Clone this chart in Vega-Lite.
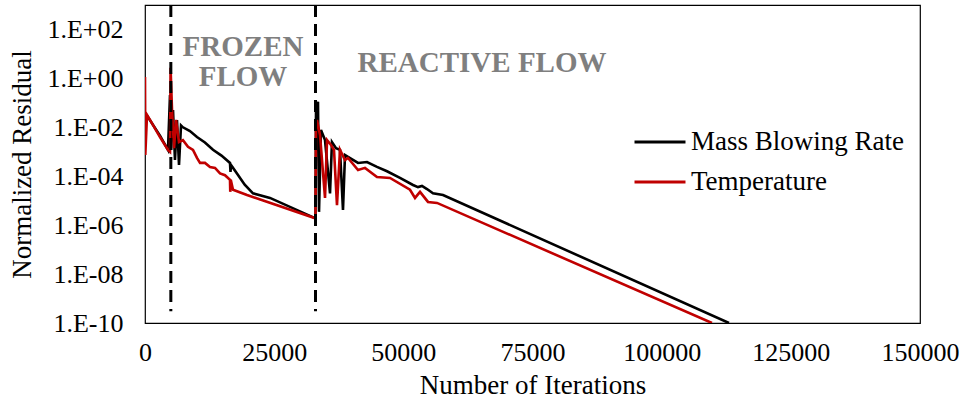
{
  "$schema": "https://vega.github.io/schema/vega-lite/v6.json",
  "width": 775,
  "height": 318,
  "autosize": {"type": "none"},
  "padding": {"left": 145, "top": 5, "right": 43, "bottom": 80},
  "background": "white",
  "config": {
    "view": {"stroke": "#000000", "strokeWidth": 1.2},
    "font": "Liberation Serif",
    "axis": {"grid": false, "ticks": false, "domain": false, "labelFontSize": 26, "labelColor": "#000", "titleFontSize": 27, "titleFontWeight": "normal", "titleColor": "#000", "labelFont": "Liberation Serif", "titleFont": "Liberation Serif"},
    "legend": {"labelFont": "Liberation Serif", "labelFontSize": 27, "labelColor": "#000", "labelLimit": 0}
  },
  "datasets": {
    "series": [
      {"it": 0, "val": 2.6e-2, "series": "Mass Blowing Rate"},
      {"it": 390, "val": 3.0e-2, "series": "Mass Blowing Rate"},
      {"it": 2900, "val": 4.5e-3, "series": "Mass Blowing Rate"},
      {"it": 4450, "val": 1.2e-3, "series": "Mass Blowing Rate"},
      {"it": 4840, "val": 0.21, "series": "Mass Blowing Rate"},
      {"it": 5030, "val": 1.2e-3, "series": "Mass Blowing Rate"},
      {"it": 5420, "val": 5.1e-2, "series": "Mass Blowing Rate"},
      {"it": 5800, "val": 4.6e-4, "series": "Mass Blowing Rate"},
      {"it": 6190, "val": 2.0e-2, "series": "Mass Blowing Rate"},
      {"it": 6580, "val": 2.9e-4, "series": "Mass Blowing Rate"},
      {"it": 6970, "val": 1.2e-2, "series": "Mass Blowing Rate"},
      {"it": 7350, "val": 1.0e-2, "series": "Mass Blowing Rate"},
      {"it": 8700, "val": 7.0e-3, "series": "Mass Blowing Rate"},
      {"it": 10060, "val": 4.0e-3, "series": "Mass Blowing Rate"},
      {"it": 11600, "val": 2.4e-3, "series": "Mass Blowing Rate"},
      {"it": 13160, "val": 1.2e-3, "series": "Mass Blowing Rate"},
      {"it": 14800, "val": 7.0e-4, "series": "Mass Blowing Rate"},
      {"it": 16450, "val": 3.5e-4, "series": "Mass Blowing Rate"},
      {"it": 16550, "val": 1.5e-4, "series": "Mass Blowing Rate"},
      {"it": 16650, "val": 2.9e-4, "series": "Mass Blowing Rate"},
      {"it": 17800, "val": 1.3e-4, "series": "Mass Blowing Rate"},
      {"it": 19300, "val": 4.5e-5, "series": "Mass Blowing Rate"},
      {"it": 20900, "val": 2.0e-5, "series": "Mass Blowing Rate"},
      {"it": 24190, "val": 1.3e-5, "series": "Mass Blowing Rate"},
      {"it": 33000, "val": 1.9e-6, "series": "Mass Blowing Rate"},
      {"it": 33100, "val": 5.1e-2, "series": "Mass Blowing Rate"},
      {"it": 33480, "val": 0.11, "series": "Mass Blowing Rate"},
      {"it": 33680, "val": 3.5e-6, "series": "Mass Blowing Rate"},
      {"it": 34060, "val": 7.8e-3, "series": "Mass Blowing Rate"},
      {"it": 34840, "val": 3.0e-3, "series": "Mass Blowing Rate"},
      {"it": 35810, "val": 2.0e-5, "series": "Mass Blowing Rate"},
      {"it": 36190, "val": 2.5e-3, "series": "Mass Blowing Rate"},
      {"it": 36970, "val": 1.4e-3, "series": "Mass Blowing Rate"},
      {"it": 37740, "val": 1.2e-3, "series": "Mass Blowing Rate"},
      {"it": 38320, "val": 4.2e-6, "series": "Mass Blowing Rate"},
      {"it": 38710, "val": 7.4e-4, "series": "Mass Blowing Rate"},
      {"it": 39290, "val": 6.2e-4, "series": "Mass Blowing Rate"},
      {"it": 41230, "val": 3.5e-4, "series": "Mass Blowing Rate"},
      {"it": 42970, "val": 3.8e-4, "series": "Mass Blowing Rate"},
      {"it": 44900, "val": 2.4e-4, "series": "Mass Blowing Rate"},
      {"it": 46840, "val": 1.6e-4, "series": "Mass Blowing Rate"},
      {"it": 49350, "val": 8.5e-5, "series": "Mass Blowing Rate"},
      {"it": 51870, "val": 4.4e-5, "series": "Mass Blowing Rate"},
      {"it": 52840, "val": 3.6e-5, "series": "Mass Blowing Rate"},
      {"it": 53610, "val": 4.0e-5, "series": "Mass Blowing Rate"},
      {"it": 54580, "val": 3.0e-5, "series": "Mass Blowing Rate"},
      {"it": 55740, "val": 2.0e-5, "series": "Mass Blowing Rate"},
      {"it": 57680, "val": 1.7e-5, "series": "Mass Blowing Rate"},
      {"it": 113030, "val": 1e-10, "series": "Mass Blowing Rate"},
      {"it": 0, "val": 1.15, "series": "Temperature"},
      {"it": 60, "val": 7.4e-4, "series": "Temperature"},
      {"it": 390, "val": 3.2e-2, "series": "Temperature"},
      {"it": 970, "val": 2.0e-2, "series": "Temperature"},
      {"it": 2900, "val": 4.0e-3, "series": "Temperature"},
      {"it": 4450, "val": 1.2e-3, "series": "Temperature"},
      {"it": 4840, "val": 1.0e-3, "series": "Temperature"},
      {"it": 4950, "val": 2.7, "series": "Temperature"},
      {"it": 5230, "val": 5.1e-2, "series": "Temperature"},
      {"it": 5620, "val": 1.4e-3, "series": "Temperature"},
      {"it": 6000, "val": 2.0e-2, "series": "Temperature"},
      {"it": 6580, "val": 2.5e-3, "series": "Temperature"},
      {"it": 7350, "val": 3.0e-3, "series": "Temperature"},
      {"it": 8320, "val": 1.6e-3, "series": "Temperature"},
      {"it": 9290, "val": 1.2e-3, "series": "Temperature"},
      {"it": 10060, "val": 5.6e-4, "series": "Temperature"},
      {"it": 10650, "val": 3.5e-4, "series": "Temperature"},
      {"it": 11610, "val": 3.5e-4, "series": "Temperature"},
      {"it": 12580, "val": 2.4e-4, "series": "Temperature"},
      {"it": 13550, "val": 2.2e-4, "series": "Temperature"},
      {"it": 14520, "val": 1.3e-4, "series": "Temperature"},
      {"it": 15480, "val": 1.1e-4, "series": "Temperature"},
      {"it": 16450, "val": 7.1e-5, "series": "Temperature"},
      {"it": 16500, "val": 2.3e-5, "series": "Temperature"},
      {"it": 16600, "val": 7.1e-5, "series": "Temperature"},
      {"it": 17030, "val": 2.8e-5, "series": "Temperature"},
      {"it": 19740, "val": 1.7e-5, "series": "Temperature"},
      {"it": 33000, "val": 1.9e-6, "series": "Temperature"},
      {"it": 33100, "val": 1.2e-2, "series": "Temperature"},
      {"it": 33290, "val": 2.0e-2, "series": "Temperature"},
      {"it": 33870, "val": 4.9e-3, "series": "Temperature"},
      {"it": 34840, "val": 1.3e-5, "series": "Temperature"},
      {"it": 35230, "val": 3.0e-3, "series": "Temperature"},
      {"it": 36000, "val": 1.9e-3, "series": "Temperature"},
      {"it": 36580, "val": 1.2e-3, "series": "Temperature"},
      {"it": 37160, "val": 6.6e-6, "series": "Temperature"},
      {"it": 37740, "val": 1.2e-3, "series": "Temperature"},
      {"it": 38710, "val": 4.6e-4, "series": "Temperature"},
      {"it": 39290, "val": 5.6e-4, "series": "Temperature"},
      {"it": 41230, "val": 1.8e-4, "series": "Temperature"},
      {"it": 42580, "val": 2.2e-4, "series": "Temperature"},
      {"it": 44900, "val": 9.3e-5, "series": "Temperature"},
      {"it": 47420, "val": 8.5e-5, "series": "Temperature"},
      {"it": 51290, "val": 2.8e-5, "series": "Temperature"},
      {"it": 52260, "val": 1.3e-5, "series": "Temperature"},
      {"it": 53230, "val": 2.3e-5, "series": "Temperature"},
      {"it": 54770, "val": 8.9e-6, "series": "Temperature"},
      {"it": 56520, "val": 8.1e-6, "series": "Temperature"},
      {"it": 109740, "val": 1e-10, "series": "Temperature"}
    ],
    "phases": [
      {"it": 5000},
      {"it": 33000}
    ],
    "labels": [
      {"text": "FROZEN", "it": 18970, "val": 19},
      {"text": "FLOW", "it": 18970, "val": 1.15},
      {"text": "REACTIVE FLOW", "it": 65230, "val": 4.3}
    ]
  },
  "layer": [
    {
      "data": {"name": "series"},
      "mark": {"type": "line", "strokeWidth": 2.6, "clip": true, "interpolate": "linear"},
      "encoding": {
        "x": {"field": "it", "type": "quantitative", "scale": {"domain": [0, 150000], "nice": false, "zero": false},
          "axis": {"values": [0, 25000, 50000, 75000, 100000, 125000, 150000], "format": "d", "title": "Number of Iterations", "labelPadding": 16, "titlePadding": 7, "labelFlush": false}},
        "y": {"field": "val", "type": "quantitative", "scale": {"type": "log", "domain": [1e-10, 1000], "nice": false},
          "axis": {"values": [1e-10, 1e-8, 1e-6, 1e-4, 1e-2, 1, 100], "title": "Normalized Residual", "labelPadding": 22, "titlePadding": 10,
            "labelExpr": "'1.E' + (datum.value >= 1 ? '+' : '-') + (abs(round(log(datum.value)/LN10)) < 10 ? '0' : '') + abs(round(log(datum.value)/LN10))"}},
        "color": {"field": "series", "type": "nominal",
          "scale": {"domain": ["Mass Blowing Rate", "Temperature"], "range": ["#000000", "#c00000"]},
          "legend": {"title": null, "orient": "none", "legendX": 488, "legendY": 110, "symbolType": "stroke", "symbolSize": 2600, "symbolStrokeWidth": 3, "labelOffset": 4, "rowPadding": 0, "labelLimit": 0}}
      }
    },
    {
      "data": {"name": "phases"},
      "mark": {"type": "rule", "color": "#000000", "strokeWidth": 3, "strokeDash": [12, 7]},
      "encoding": {
        "x": {"field": "it", "type": "quantitative"},
        "y": {"datum": 1000},
        "y2": {"datum": 3e-10}
      }
    },
    {
      "data": {"name": "labels"},
      "mark": {"type": "text", "font": "Liberation Serif", "fontWeight": "bold", "fontSize": 29, "color": "#7f7f7f", "align": "center", "baseline": "middle"},
      "encoding": {
        "x": {"field": "it", "type": "quantitative"},
        "y": {"field": "val", "type": "quantitative"},
        "text": {"field": "text"}
      }
    }
  ]
}
